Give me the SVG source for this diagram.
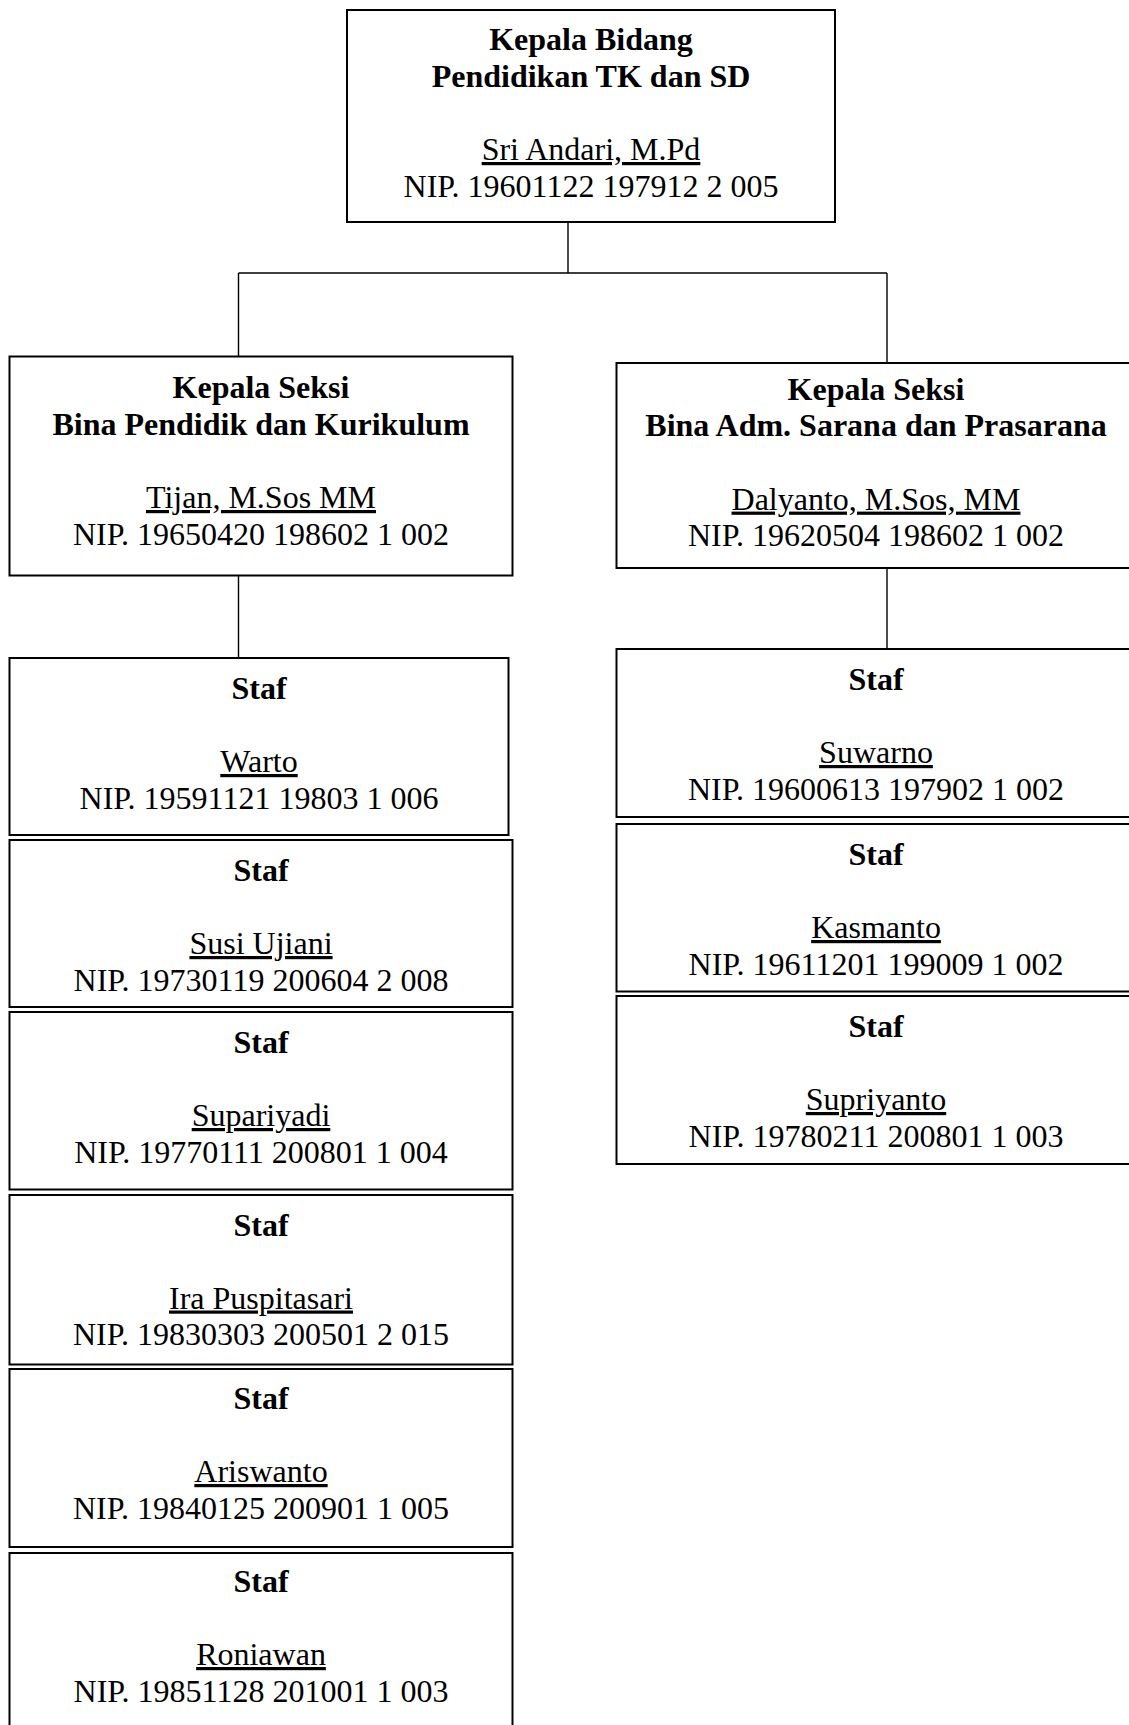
<svg xmlns="http://www.w3.org/2000/svg" width="1129" height="1725" viewBox="0 0 1129 1725">
<style>
.box{fill:#fff;stroke:#000;stroke-width:2}
.con{fill:none;stroke:#000;stroke-width:1.4}
text{font-family:"Liberation Serif","Times New Roman",serif;font-size:32px;fill:#000;text-anchor:middle}
.b{font-weight:bold}
.u{text-decoration:underline}
</style>
<rect width="1129" height="1725" fill="#fff"/>
<g id="connectors">
<path class="con" d="M568,222 V273 M238.5,273 H887 M238.5,273 V356.5 M887,273 V363 M238.5,575.5 V658 M887,568 V649"/>
</g>
<g id="kabid">
<rect class="box" x="347" y="10" width="488" height="212"/>
<text class="b" x="591" y="50">Kepala Bidang</text>
<text class="b" x="591" y="86.7">Pendidikan TK dan SD</text>
<text class="u" x="591" y="160">Sri Andari, M.Pd</text>
<text x="591" y="196.7">NIP. 19601122 197912 2 005</text>
</g>
<g id="kasi-pendidik">
<rect class="box" x="9.5" y="356.5" width="503" height="219"/>
<text class="b" x="261" y="398">Kepala Seksi</text>
<text class="b" x="261" y="434.7">Bina Pendidik dan Kurikulum</text>
<text class="u" x="261" y="508">Tijan, M.Sos MM</text>
<text x="261" y="544.7">NIP. 19650420 198602 1 002</text>
</g>
<g id="kasi-sarpras">
<rect class="box" x="616.5" y="363" width="520" height="205"/>
<text class="b" x="876" y="399.5">Kepala Seksi</text>
<text class="b" x="876" y="436.2">Bina Adm. Sarana dan Prasarana</text>
<text class="u" x="876" y="509.6">Dalyanto, M.Sos, MM</text>
<text x="876" y="546.3">NIP. 19620504 198602 1 002</text>
</g>
<g id="staf-warto">
<rect class="box" x="9.5" y="658" width="499" height="177"/>
<text class="b" x="259" y="699">Staf</text>
<text class="u" x="259" y="772">Warto</text>
<text x="259" y="808.7">NIP. 19591121 19803 1 006</text>
</g>
<g id="staf-susi">
<rect class="box" x="9.5" y="840" width="503" height="167"/>
<text class="b" x="261" y="881">Staf</text>
<text class="u" x="261" y="954">Susi Ujiani</text>
<text x="261" y="990.7">NIP. 19730119 200604 2 008</text>
</g>
<g id="staf-supariyadi">
<rect class="box" x="9.5" y="1012" width="503" height="177.5"/>
<text class="b" x="261" y="1053">Staf</text>
<text class="u" x="261" y="1126">Supariyadi</text>
<text x="261" y="1163">NIP. 19770111 200801 1 004</text>
</g>
<g id="staf-ira">
<rect class="box" x="9.5" y="1195" width="503" height="169.5"/>
<text class="b" x="261" y="1235.5">Staf</text>
<text class="u" x="261" y="1308.5">Ira Puspitasari</text>
<text x="261" y="1345">NIP. 19830303 200501 2 015</text>
</g>
<g id="staf-ariswanto">
<rect class="box" x="9.5" y="1369" width="503" height="178"/>
<text class="b" x="261" y="1409">Staf</text>
<text class="u" x="261" y="1482">Ariswanto</text>
<text x="261" y="1518.7">NIP. 19840125 200901 1 005</text>
</g>
<g id="staf-roniawan">
<rect class="box" x="9.5" y="1553" width="503" height="185"/>
<text class="b" x="261" y="1592">Staf</text>
<text class="u" x="261" y="1665">Roniawan</text>
<text x="261" y="1701.7">NIP. 19851128 201001 1 003</text>
</g>
<g id="staf-suwarno">
<rect class="box" x="616.5" y="649" width="520" height="168"/>
<text class="b" x="876" y="690">Staf</text>
<text class="u" x="876" y="763">Suwarno</text>
<text x="876" y="799.7">NIP. 19600613 197902 1 002</text>
</g>
<g id="staf-kasmanto">
<rect class="box" x="616.5" y="824" width="520" height="167.5"/>
<text class="b" x="876" y="865">Staf</text>
<text class="u" x="876" y="938">Kasmanto</text>
<text x="876" y="974.7">NIP. 19611201 199009 1 002</text>
</g>
<g id="staf-supriyanto">
<rect class="box" x="616.5" y="996" width="520" height="168"/>
<text class="b" x="876" y="1037">Staf</text>
<text class="u" x="876" y="1110">Supriyanto</text>
<text x="876" y="1146.7">NIP. 19780211 200801 1 003</text>
</g>
</svg>
